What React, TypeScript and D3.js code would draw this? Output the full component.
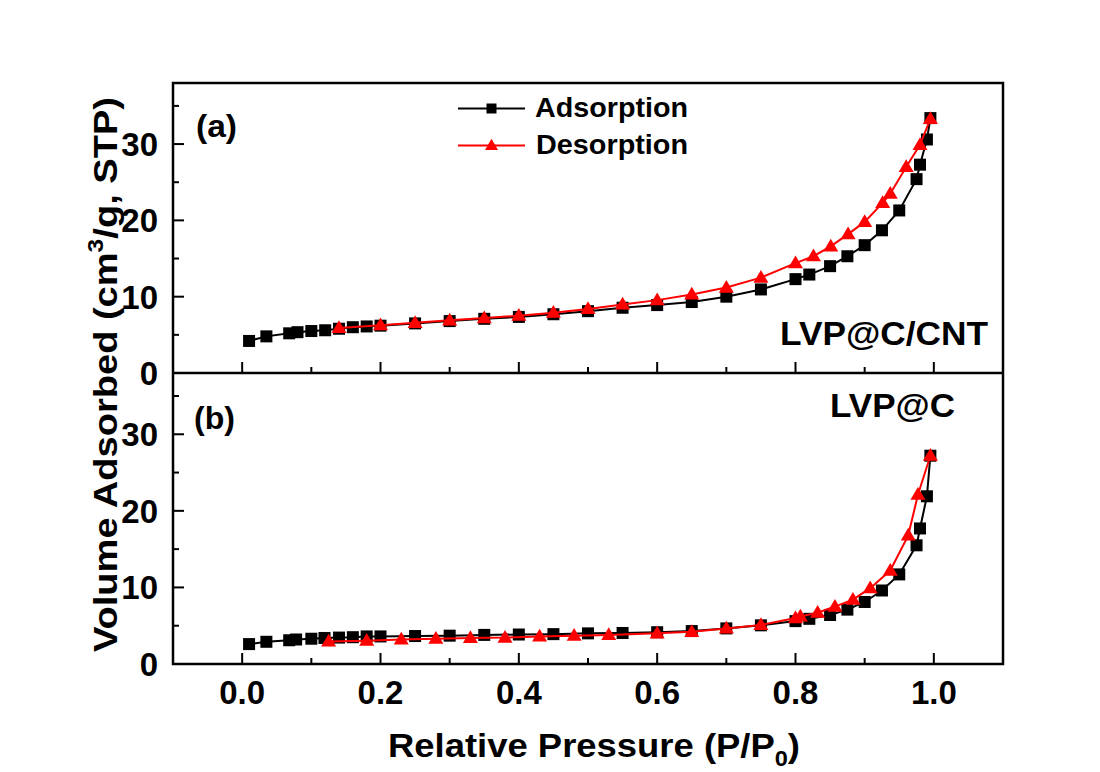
import React from "react";
import * as d3 from "d3";

// Panel (a) LVP@C/CNT
const adsA_P = [0.01, 0.035, 0.068, 0.08, 0.1, 0.12, 0.14, 0.16, 0.18, 0.2, 0.25, 0.3, 0.35, 0.4, 0.45, 0.5, 0.55, 0.6, 0.65, 0.7, 0.75, 0.8, 0.82, 0.85, 0.875, 0.9, 0.925, 0.95, 0.975, 0.98, 0.99, 0.995];
const adsA_V = [4.2, 4.8, 5.2, 5.35, 5.5, 5.6, 5.8, 6.0, 6.1, 6.2, 6.5, 6.8, 7.1, 7.35, 7.7, 8.1, 8.55, 8.9, 9.3, 10.0, 10.95, 12.3, 12.9, 14.0, 15.3, 16.75, 18.7, 21.3, 25.4, 27.3, 30.6, 33.4];
const desA_P = [0.995, 0.98, 0.96, 0.937, 0.926, 0.9, 0.876, 0.851, 0.826, 0.8, 0.75, 0.7, 0.65, 0.6, 0.55, 0.5, 0.45, 0.4, 0.35, 0.3, 0.25, 0.2, 0.14];
const desA_V = [33.3, 29.9, 27.0, 23.5, 22.3, 19.8, 18.2, 16.6, 15.3, 14.4, 12.5, 11.2, 10.3, 9.55, 8.99, 8.4, 7.9, 7.5, 7.2, 6.9, 6.57, 6.27, 5.9];

// Panel (b) LVP@C
const adsB_P = [0.01, 0.035, 0.068, 0.078, 0.1, 0.119, 0.14, 0.16, 0.18, 0.2, 0.25, 0.3, 0.35, 0.4, 0.45, 0.5, 0.55, 0.6, 0.65, 0.7, 0.75, 0.8, 0.82, 0.85, 0.875, 0.9, 0.925, 0.95, 0.975, 0.98, 0.99, 0.995];
const adsB_V = [2.6, 2.9, 3.1, 3.2, 3.3, 3.4, 3.45, 3.5, 3.6, 3.6, 3.65, 3.7, 3.8, 3.85, 3.9, 4.0, 4.05, 4.15, 4.3, 4.65, 5.05, 5.6, 5.9, 6.4, 7.1, 8.1, 9.6, 11.7, 15.5, 17.7, 21.9, 27.2];
const desB_P = [0.995, 0.977, 0.963, 0.937, 0.908, 0.883, 0.857, 0.832, 0.807, 0.8, 0.75, 0.7, 0.65, 0.6, 0.53, 0.48, 0.43, 0.38, 0.33, 0.28, 0.23, 0.18, 0.125];
const desB_V = [27.2, 22.1, 16.8, 12.2, 9.9, 8.4, 7.5, 6.7, 6.2, 6.0, 5.1, 4.65, 4.2, 4.0, 3.8, 3.7, 3.6, 3.45, 3.4, 3.3, 3.2, 3.05, 2.95];

const xMajorTicks = [0.0, 0.2, 0.4, 0.6, 0.8, 1.0];
const xMinorTicks = [-0.1, 0.1, 0.3, 0.5, 0.7, 0.9, 1.1];
const yMajorTicks = [0, 10, 20, 30];
const yMinorTicks = [5, 15, 25, 35];
const seriesNames = ["Adsorption", "Desorption"];
const panelLabels = ["(a)", "(b)"];
const sampleNames = ["LVP@C/CNT", "LVP@C"];

const FONT = "'Liberation Sans', Arial, Helvetica, sans-serif";
const RED = "#ff0000";

const L = 173, R = 1003, T = 83, M = 373, B = 664;

const x = d3.scaleLinear().domain([-0.1, 1.1]).range([L, R]);
const yA = d3.scaleLinear().domain([0, 38]).range([M, T]);
const yB = d3.scaleLinear().domain([0, 38]).range([B, M]);

const zip = (ps: number[], vs: number[]) => ps.map((p, i) => [p, vs[i]] as [number, number]);

function Square({ cx, cy, s }: { cx: number; cy: number; s: number }) {
  return <rect x={cx - s / 2} y={cy - s / 2} width={s} height={s} fill="#000" />;
}
function Tri({ cx, cy, s, color }: { cx: number; cy: number; s: number; color: string }) {
  const h = s * 0.85;
  return (
    <path
      d={`M${cx},${cy - h * 0.6} L${cx + s / 2},${cy + h * 0.4} L${cx - s / 2},${cy + h * 0.4} Z`}
      fill={color}
    />
  );
}

function Panel({ y, ads, des }: { y: d3.ScaleLinear<number, number>; ads: [number, number][]; des: [number, number][] }) {
  const line = d3.line<[number, number]>().x((d) => x(d[0])).y((d) => y(d[1]));
  const [y0] = y.range();
  return (
    <g>
      <path d={line(ads) || ""} fill="none" stroke="#000" strokeWidth={2} />
      {ads.map((d, i) => (
        <Square key={"s" + i} cx={x(d[0])} cy={y(d[1])} s={12} />
      ))}
      <path d={line(des) || ""} fill="none" stroke={RED} strokeWidth={2} />
      {des.map((d, i) => (
        <Tri key={"t" + i} cx={x(d[0])} cy={y(d[1])} s={15} color={RED} />
      ))}
      {yMajorTicks.map((t) => (
        <g key={"ym" + t}>
          <line x1={L} x2={L + 11} y1={y(t)} y2={y(t)} stroke="#000" strokeWidth={2} />
          <text x={158} y={y(t) + 12} textAnchor="end" fontFamily={FONT} fontWeight="bold" fontSize={33}>
            {t}
          </text>
        </g>
      ))}
      {yMinorTicks.map((t) => (
        <line key={"yn" + t} x1={L} x2={L + 6} y1={y(t)} y2={y(t)} stroke="#000" strokeWidth={2} />
      ))}
      {xMajorTicks.map((t) => (
        <line key={"xm" + t} x1={x(t)} x2={x(t)} y1={y0} y2={y0 - 11} stroke="#000" strokeWidth={2} />
      ))}
      {xMinorTicks.map((t) => (
        <line key={"xn" + t} x1={x(t)} x2={x(t)} y1={y0} y2={y0 - 6} stroke="#000" strokeWidth={2} />
      ))}
    </g>
  );
}

export default function App() {
  return (
    <svg width={1100} height={772} style={{ position: "absolute", left: 0, top: 0, background: "#fff" }}>
      <rect x={0} y={0} width={1100} height={772} fill="#fff" />
      <Panel y={yA} ads={zip(adsA_P, adsA_V)} des={zip(desA_P, desA_V)} />
      <Panel y={yB} ads={zip(adsB_P, adsB_V)} des={zip(desB_P, desB_V)} />

      {/* frame */}
      <rect x={L} y={T} width={R - L} height={B - T} fill="none" stroke="#000" strokeWidth={2.5} />
      <line x1={L} x2={R} y1={M} y2={M} stroke="#000" strokeWidth={2.5} />

      {/* x tick labels */}
      {xMajorTicks.map((t) => (
        <text key={"xl" + t} x={x(t)} y={704} textAnchor="middle" fontFamily={FONT} fontWeight="bold" fontSize={33}>
          {d3.format(".1f")(t)}
        </text>
      ))}

      {/* axis titles */}
      <text
        x={388}
        y={757}
        textLength={412}
        lengthAdjust="spacingAndGlyphs"
        fontFamily={FONT}
        fontWeight="bold"
        fontSize={34}
      >
        Relative Pressure (P/P
        <tspan fontSize={22} dy={9}>0</tspan>
        <tspan dy={-9}>)</tspan>
      </text>
      <text
        transform={`translate(117, 652) rotate(-90)`}
        textLength={555}
        lengthAdjust="spacingAndGlyphs"
        fontFamily={FONT}
        fontWeight="bold"
        fontSize={34}
      >
        Volume Adsorbed (cm
        <tspan fontSize={22} dy={-14}>3</tspan>
        <tspan dy={14}>/g, STP)</tspan>
      </text>

      {/* panel labels */}
      <text x={196} y={137} textLength={41} lengthAdjust="spacingAndGlyphs" fontFamily={FONT} fontWeight="bold" fontSize={31}>{panelLabels[0]}</text>
      <text x={194} y={429} textLength={41} lengthAdjust="spacingAndGlyphs" fontFamily={FONT} fontWeight="bold" fontSize={31}>{panelLabels[1]}</text>
      <text x={780} y={345} textLength={208} lengthAdjust="spacingAndGlyphs" fontFamily={FONT} fontWeight="bold" fontSize={33}>{sampleNames[0]}</text>
      <text x={830} y={417} textLength={125} lengthAdjust="spacingAndGlyphs" fontFamily={FONT} fontWeight="bold" fontSize={33}>{sampleNames[1]}</text>

      {/* legend */}
      <line x1={458} x2={525} y1={108.5} y2={108.5} stroke="#000" strokeWidth={2} />
      <Square cx={491.5} cy={108.5} s={10} />
      <text x={535} y={117} textLength={153} lengthAdjust="spacingAndGlyphs" fontFamily={FONT} fontWeight="bold" fontSize={28}>{seriesNames[0]}</text>
      <line x1={458} x2={525} y1={145.5} y2={145.5} stroke={RED} strokeWidth={2} />
      <Tri cx={491.5} cy={145.5} s={13} color={RED} />
      <text x={536} y={154} textLength={152} lengthAdjust="spacingAndGlyphs" fontFamily={FONT} fontWeight="bold" fontSize={28}>{seriesNames[1]}</text>
    </svg>
  );
}
